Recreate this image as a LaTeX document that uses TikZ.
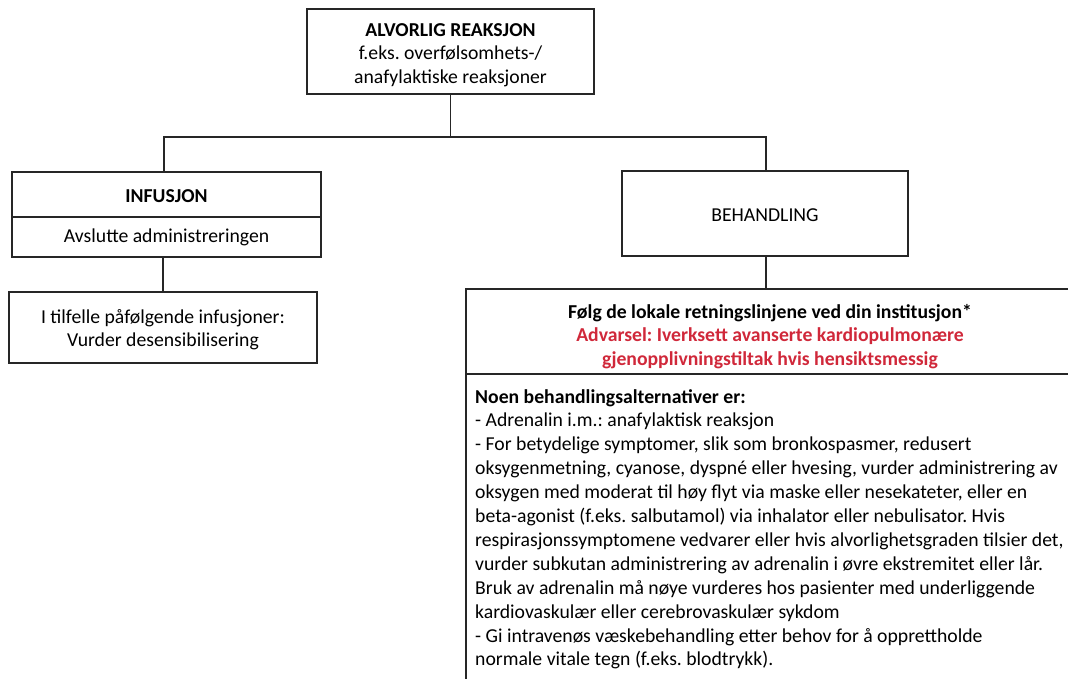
\documentclass[tikz,border=0pt]{standalone}
\usepackage{fontspec}
\setmainfont{Carlito}
\definecolor{warnred}{HTML}{D0283A}
\definecolor{lineclr}{HTML}{262626}
\begin{document}
\frenchspacing
\begin{tikzpicture}[x=1pt,y=-1pt,
  box/.style={draw=lineclr,line width=1.6pt,rectangle,inner sep=0pt},
  txt/.style={inner sep=0pt,align=center,font=\fontsize{19.7}{23.5}\selectfont},
  conn/.style={draw=lineclr,line width=1.6pt}]
\useasboundingbox (0,0) rectangle (1068,679);
\clip (0,0) rectangle (1068,679);
% boxes
\node[box,minimum width=287pt,minimum height=85pt] (top) at (450.5,51.5) {};
\node[box,minimum width=309pt,minimum height=45pt] (infA) at (166.5,194.5) {};
\node[box,minimum width=309pt,minimum height=40pt] (infB) at (166.5,237) {};
\node[box,minimum width=308pt,minimum height=71pt] (left2) at (163,327.5) {};
\node[box,minimum width=286pt,minimum height=85pt] (beh) at (765,213.5) {};
\node[box,minimum width=608pt,minimum height=85pt] (bigA) at (770,331.5) {};
\node[box,minimum width=608pt,minimum height=340pt] (bigB) at (770,544) {};
% texts
\node[txt] (topT) at (450.5,55) {\textbf{ALVORLIG REAKSJON}\\f.eks. overfølsomhets-/\\anafylaktiske reaksjoner};
\node[txt] (infAT) at (166.5,196.5) {\textbf{INFUSJON}};
\node[txt] (infBT) at (166.5,237.5) {Avslutte administreringen};
\node[txt] (left2T) at (163,329.5) {I tilfelle påfølgende infusjoner:\\Vurder desensibilisering};
\node[txt] (behT) at (765,215.5) {BEHANDLING};
\node[txt] (bigAT) at (770,336.5)
  {\textbf{Følg de lokale retningslinjene ved din institusjon*}\\
   \textcolor{warnred}{\textbf{Advarsel: Iverksett avanserte kardiopulmonære}}\\
   \textcolor{warnred}{\textbf{gjenopplivningstiltak hvis hensiktsmessig}}};
\node[anchor=north west,inner sep=0pt,align=left,font=\fontsize{19.7}{23.9}\selectfont] (body) at (475,389)
  {\textbf{Noen behandlingsalternativer er:}\\
   - Adrenalin i.m.: anafylaktisk reaksjon\\
   - For betydelige symptomer, slik som bronkospasmer, redusert\\
   oksygenmetning, cyanose, dyspné eller hvesing, vurder administrering av\\
   oksygen med moderat til høy flyt via maske eller nesekateter, eller en\\
   beta-agonist (f.eks. salbutamol) via inhalator eller nebulisator. Hvis\\
   respirasjonssymptomene vedvarer eller hvis alvorlighetsgraden tilsier det,\\
   vurder subkutan administrering av adrenalin i øvre ekstremitet eller lår.\\
   Bruk av adrenalin må nøye vurderes hos pasienter med underliggende\\
   kardiovaskulær eller cerebrovaskulær sykdom\\
   - Gi intravenøs væskebehandling etter behov for å opprettholde\\
   normale vitale tegn (f.eks. blodtrykk).};
% connectors
\coordinate (busL) at (164,137);
\coordinate (busR) at (766,137);
\draw[conn] (top.south) -- (top.south |- busL);
\draw[conn] (infA.north -| busL) -- (busL) -- (busR) -- (beh.north -| busR);
\draw[conn] (infB.south -| left2.north) -- (left2.north);
\draw[conn] (beh.south -| busR) -- (bigA.north -| busR);
\end{tikzpicture}
\end{document}
